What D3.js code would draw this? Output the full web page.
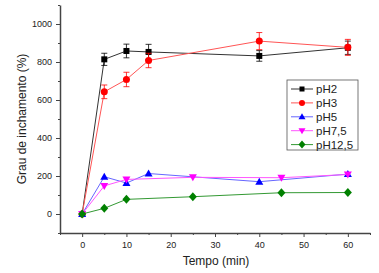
<!DOCTYPE html>
<html lang="pt">
<head>
<meta charset="UTF-8">
<title>Grau de inchamento</title>
<script src="https://d3js.org/d3.v7.min.js"></script>
<style>
  body { margin: 0; background: #fff; }
  svg { display: block; font-family: "Liberation Sans", Arial, sans-serif; }
  .axis path, .axis line { stroke: #444; }
  .axis text { font-size: 9px; fill: #222; }
</style>
</head>
<body>
<svg width="379" height="273"></svg>
<script>
// dados
const seriesNames = ["pH2", "pH3", "pH5", "pH7,5", "pH12,5"];
const colors = ["#000000", "#ff0000", "#0000ff", "#ff00ff", "#008000"];
const lineColors = ["#333333", "#ff5555", "#6666ff", "#ff55ff", "#339933"];
const markers = ["square", "circle", "triangle", "down", "diamond"];

const tPH2 = [0, 5, 10, 15, 40, 60];
const vPH2 = [0, 814, 858, 853, 832, 875];
const ePH2 = [0, 32, 36, 40, 28, 35];

const tPH3 = [0, 5, 10, 15, 40, 60];
const vPH3 = [0, 643, 708, 808, 910, 877];
const ePH3 = [0, 36, 38, 38, 45, 42];

const tPH5 = [0, 5, 10, 15, 40, 60];
const vPH5 = [0, 196, 163, 213, 170, 210];

const tPH75 = [0, 5, 10, 25, 45, 60];
const vPH75 = [0, 148, 182, 193, 191, 208];

const tPH125 = [0, 5, 10, 25, 45, 60];
const vPH125 = [0, 30, 77, 91, 112, 113];

const xTicks = [0, 10, 20, 30, 40, 50, 60];
const yTicks = [0, 200, 400, 600, 800, 1000];

const series = [
  { t: tPH2, v: vPH2, e: ePH2 },
  { t: tPH3, v: vPH3, e: ePH3 },
  { t: tPH5, v: vPH5 },
  { t: tPH75, v: vPH75 },
  { t: tPH125, v: vPH125 }
];

const svg = d3.select("svg");
const mLeft = 60, mRight = 370, mTop = 5, mBottom = 233;

const x = d3.scaleLinear().domain([-5, 65]).range([mLeft, mRight]);
const y = d3.scaleLinear().domain([-100, 1100]).range([mBottom, mTop]);

// eixos com ticks menores
const xMinor = d3.range(-5, 66, 5).filter(d => d % 10 !== 0);
const yMinor = d3.range(-100, 1101, 100).filter(d => d % 200 !== 0);

svg.append("g").attr("class", "axis")
  .attr("transform", `translate(0,${mBottom})`)
  .call(d3.axisBottom(x).tickValues(xMinor).tickSize(2).tickFormat(""))
  .call(g => g.select(".domain").remove());
svg.append("g").attr("class", "axis")
  .attr("transform", `translate(0,${mBottom})`)
  .call(d3.axisBottom(x).tickValues(xTicks).tickSize(4).tickSizeOuter(0).tickPadding(5).tickFormat(d3.format("d")))
  .call(g => g.select(".domain").attr("stroke-width", 1.5));

svg.append("g").attr("class", "axis")
  .attr("transform", `translate(${mLeft},0)`)
  .call(d3.axisLeft(y).tickValues(yMinor).tickSize(2).tickFormat(""))
  .call(g => g.select(".domain").remove());
svg.append("g").attr("class", "axis")
  .attr("transform", `translate(${mLeft},0)`)
  .call(d3.axisLeft(y).tickValues(yTicks).tickSize(4).tickSizeOuter(0).tickPadding(4).tickFormat(d3.format("d")))
  .call(g => g.select(".domain").attr("stroke-width", 1.5));

// títulos dos eixos
svg.append("text")
  .attr("x", 216).attr("y", 265)
  .attr("text-anchor", "middle")
  .attr("font-size", 12).attr("fill", "#222")
  .text("Tempo (min)");
svg.append("text")
  .attr("transform", `translate(26,${(mTop + mBottom) / 2}) rotate(-90)`)
  .attr("text-anchor", "middle")
  .attr("font-size", 12).attr("fill", "#222")
  .text("Grau de inchamento (%)");

function drawMarker(g, type, color, size) {
  const s = size;
  if (type === "square") {
    g.append("rect").attr("x", -s).attr("y", -s).attr("width", 2 * s).attr("height", 2 * s).attr("fill", color);
  } else if (type === "circle") {
    g.append("circle").attr("r", s + 0.5).attr("fill", color);
  } else if (type === "triangle") {
    g.append("path").attr("d", `M0,${-s - 1}L${s + 1},${s}L${-s - 1},${s}Z`).attr("fill", color);
  } else if (type === "down") {
    g.append("path").attr("d", `M0,${s + 1}L${s + 1},${-s}L${-s - 1},${-s}Z`).attr("fill", color);
  } else {
    g.append("path").attr("d", `M0,${-s - 1.5}L${s + 1},0L0,${s + 1.5}L${-s - 1},0Z`).attr("fill", color);
  }
}

const line = d3.line().x(d => x(d.t)).y(d => y(d.v));

series.forEach((s, i) => {
  const pts = s.t.map((t, j) => ({ t: t, v: s.v[j], e: s.e ? s.e[j] : 0 }));
  const g = svg.append("g");
  g.append("path").datum(pts)
    .attr("d", line)
    .attr("fill", "none")
    .attr("stroke", lineColors[i])
    .attr("stroke-width", 1);
  if (s.e) {
    const eb = g.selectAll(".err").data(pts.filter(d => d.e > 0)).join("g")
      .attr("stroke", colors[i]).attr("stroke-width", 0.8);
    eb.append("line")
      .attr("x1", d => x(d.t)).attr("x2", d => x(d.t))
      .attr("y1", d => y(d.v - d.e)).attr("y2", d => y(d.v + d.e));
    eb.append("line")
      .attr("x1", d => x(d.t) - 3).attr("x2", d => x(d.t) + 3)
      .attr("y1", d => y(d.v + d.e)).attr("y2", d => y(d.v + d.e));
    eb.append("line")
      .attr("x1", d => x(d.t) - 3).attr("x2", d => x(d.t) + 3)
      .attr("y1", d => y(d.v - d.e)).attr("y2", d => y(d.v - d.e));
  }
  g.selectAll(".pt").data(pts).join("g")
    .attr("transform", d => `translate(${x(d.t)},${y(d.v)})`)
    .each(function () { drawMarker(d3.select(this), markers[i], colors[i], 3); });
});

// legenda
const leg = svg.append("g").attr("transform", "translate(287,80)");
leg.append("rect")
  .attr("width", 71).attr("height", 70)
  .attr("fill", "#fff").attr("stroke", "#555").attr("stroke-width", 0.8);
seriesNames.forEach((name, i) => {
  const row = leg.append("g").attr("transform", `translate(0,${9 + i * 13.9})`);
  row.append("line").attr("x1", 4).attr("x2", 26)
    .attr("stroke", lineColors[i]).attr("stroke-width", 1);
  const m = row.append("g").attr("transform", "translate(15,0)");
  drawMarker(m, markers[i], colors[i], 2.5);
  row.append("text").attr("x", 29).attr("y", 4)
    .attr("font-size", 11.5).attr("fill", "#222").text(name);
});
</script>
</body>
</html>
